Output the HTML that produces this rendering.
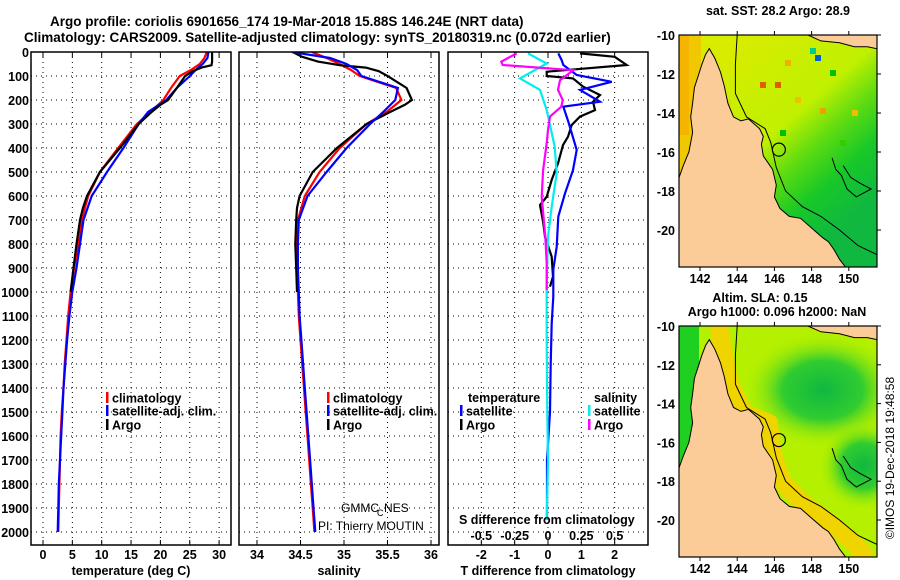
<!DOCTYPE html>
<html><head><meta charset="utf-8"><style>
html,body{margin:0;padding:0;background:#fff;}
svg{display:block;font-family:"Liberation Sans",sans-serif;font-weight:bold;}
</style></head><body>
<svg id="c" width="900" height="580" viewBox="0 0 900 580" xmlns="http://www.w3.org/2000/svg">
<defs>
<clipPath id="cp1"><rect x="31" y="52" width="200" height="493"/></clipPath>
<clipPath id="cp2"><rect x="239" y="52" width="200" height="493"/></clipPath>
<clipPath id="cp3"><rect x="448" y="52" width="200" height="493"/></clipPath>
<clipPath id="cm1"><rect x="679" y="35" width="198" height="232"/></clipPath>
<clipPath id="cm2"><rect x="679" y="326" width="198" height="231"/></clipPath>
<linearGradient id="sstg" x1="0.2" y1="0.1" x2="0.75" y2="0.85">
<stop offset="0" stop-color="#d8ec00"/><stop offset="0.45" stop-color="#c0f000"/><stop offset="0.62" stop-color="#60dc10"/><stop offset="0.8" stop-color="#18c828"/><stop offset="1" stop-color="#10b840"/></linearGradient>
<radialGradient id="slab"><stop offset="0" stop-color="#10b840"/><stop offset="0.5" stop-color="#30cc30"/><stop offset="1" stop-color="#b0f000" stop-opacity="0"/></radialGradient>
</defs>
<text x="50" y="26" font-size="13.5">Argo profile: coriolis 6901656_174 19-Mar-2018 15.88S 146.24E (NRT data)</text>
<text x="24" y="42" font-size="13.5">Climatology: CARS2009. Satellite-adjusted climatology: synTS_20180319.nc (0.072d earlier)</text>
<g id="layer"></g>
</svg>
<script>
// ---- data ----
const depthClim=[0,25,50,75,100,150,200,250,300,400,500,600,700,800,900,1000,1100,1200,1300,1400,1500,1600,1700,1800,1900,2000];
const tempClim=[27.9,27.5,26.7,25.2,23.3,21.8,20.5,18.3,16.0,12.8,9.7,7.7,6.6,6.0,5.3,4.7,4.3,4.0,3.7,3.5,3.2,3.0,2.9,2.8,2.7,2.6];
const tempSat=[28.2,28.0,27.2,26.0,25.0,22.8,21.0,17.9,16.3,13.7,10.9,8.3,6.9,6.3,5.7,5.0,4.5,4.1,3.8,3.5,3.3,3.1,2.9,2.7,2.6,2.5];
const salClim=[34.63,34.80,34.95,35.08,35.18,35.60,35.66,35.49,35.26,34.95,34.72,34.55,34.47,34.46,34.46,34.47,34.48,34.50,34.52,34.54,34.56,34.58,34.60,34.62,34.64,34.66];
const salSat=[34.40,34.84,35.03,35.15,35.20,35.62,35.59,35.45,35.30,35.03,34.80,34.58,34.48,34.47,34.47,34.48,34.49,34.51,34.53,34.55,34.57,34.59,34.61,34.63,34.65,34.67];
const depthArgo=[0,20,40,55,65,80,100,150,200,220,250,300,400,500,600,650,700,800,900,1000];
const tempArgo=[28.8,28.8,28.8,28.7,27.0,25.5,24.2,22.8,21.3,20.0,18.5,16.3,13.1,9.7,7.5,6.8,6.3,5.7,5.2,4.7];
const salArgo=[34.41,34.52,34.70,34.95,35.25,35.40,35.50,35.72,35.78,35.70,35.53,35.26,34.92,34.64,34.49,34.46,34.45,34.44,34.45,34.46];
const depthTdA=[6,20,54,70,82,100,110,144,179,207,242,269,304,353,388,464,533,603,638,713,769,853,936,978];
const tDiffArgo=[0.96,2.0,2.36,1.0,-0.04,-0.04,0.75,1.05,1.56,1.35,1.41,0.96,0.71,0.6,0.45,0.3,0.11,-0.04,-0.24,-0.14,-0.09,0.11,0.15,0.06];
const depthTdS=[6,34,54,96,124,158,207,228,290,408,492,589,686,811,908,1019,1131,1300,1500,1700,1950];
const tDiffSat=[0.31,0.41,0.46,0.86,1.91,0.96,1.56,0.46,0.61,0.86,0.75,0.51,0.31,0.26,0.16,0.16,0.11,0.08,0.06,-0.03,-0.03];
const depthSdA=[6,40,54,76,118,158,200,228,269,325,380,492,603,769,880,992];
const sDiffArgo=[-0.235,-0.35,-0.34,0.19,0.09,0.075,0.11,0.1,0.015,0,-0.01,-0.037,-0.047,-0.02,-0.01,-0.01];
const depthSdS=[6,48,110,158,242,394,505,644,769,964,1200,1500,1700,1950];
const sDiffSat=[-0.15,-0.01,-0.21,-0.06,-0.01,0.05,0.065,0.028,0.0,-0.01,-0.01,-0.005,0.0,-0.01];
const depthTicks=[0,100,200,300,400,500,600,700,800,900,1000,1100,1200,1300,1400,1500,1600,1700,1800,1900,2000];
const tTicks=[0,5,10,15,20,25,30];
const sTicks=[34,34.5,35,35.5,36];
const sTickLabels=["34","34.5","35","35.5","36"];
const tdTicks=[-2,-1,0,1,2];
const sdTicks=[-0.5,-0.25,0,0.25,0.5];
const sdTickLabels=["-0.5","-0.25","0","0.25","0.5"];
const lonTicks=[142,144,146,148,150];
const latTicks=[-10,-12,-14,-16,-18,-20];
const argoLon=146.24, argoLat=-15.88;

// ---- helpers ----
const NS="http://www.w3.org/2000/svg";
const L=document.getElementById('layer');
function mk(tag,attrs,parent){const e=document.createElementNS(NS,tag);for(const k in attrs)e.setAttribute(k,attrs[k]);(parent||L).appendChild(e);return e;}
const yD=d=>52+d*0.24;
const xT=v=>43+v*5.87;
const xS=v=>257+(v-34)*87;
const xTd=v=>548+v*33.33;
const xSd=v=>548+v*133.33;
function line(xs,ds,fx,color,clip,name){
  const p=xs.map((v,i)=>fx(v).toFixed(1)+","+yD(ds[i]).toFixed(1)).join(" ");
  const e=mk('polyline',{points:p,fill:'none',stroke:color,'stroke-width':2.2,'clip-path':'url(#'+clip+')'});
  
  
}
function txt(x,y,s,opts){const e=mk('text',Object.assign({x:x,y:y,'font-size':12.5},opts||{}));e.textContent=s;return e;}

// ---- panels ----
const panels=[{x:31,w:200,clip:'cp1'},{x:239,w:200,clip:'cp2'},{x:448,w:200,clip:'cp3'}];
panels.forEach((p,pi)=>{
  const g=mk('g',{});
  
  
  depthTicks.forEach(d=>{ if(d>0){mk('line',{x1:p.x,x2:p.x+p.w,y1:yD(d),y2:yD(d),stroke:'#000','stroke-width':1,'stroke-dasharray':'1,4'},g);} });
  let xs = pi===0?tTicks.map(xT):pi===1?sTicks.map(xS):tdTicks.map(xTd);
  xs.forEach(x=>mk('line',{x1:x,x2:x,y1:52,y2:545,stroke:'#000','stroke-width':1,'stroke-dasharray':'1,4'},g));
  xs.forEach(x=>{mk('line',{x1:x,x2:x,y1:545,y2:540,stroke:'#000'},g);mk('line',{x1:x,x2:x,y1:52,y2:57,stroke:'#000'},g);});
});
depthTicks.forEach(d=>{const e=txt(29,yD(d)+5,String(d),{'text-anchor':'end'});
  
  });
tTicks.forEach(v=>{const e=txt(xT(v),559,String(v),{'text-anchor':'middle'});
  
  });
sTicks.forEach((v,i)=>{const e=txt(xS(v),559,sTickLabels[i],{'text-anchor':'middle'});
  
  });
tdTicks.forEach(v=>{const e=txt(xTd(v),559,String(v),{'text-anchor':'middle'});
  
  });
sdTicks.forEach((v,i)=>{const e=txt(xSd(v),540,sdTickLabels[i],{'text-anchor':'middle'});
  
  });

line(tempClim,depthClim,xT,'#f00','cp1','temperature-climatology-line');
line(tempSat,depthClim,xT,'#00f','cp1','temperature-satellite-line');
line(tempArgo,depthArgo,xT,'#000','cp1','temperature-argo-line');
line(salClim,depthClim,xS,'#f00','cp2','salinity-climatology-line');
line(salArgo,depthArgo,xS,'#000','cp2','salinity-argo-line');
line(salSat,depthClim,xS,'#00f','cp2','salinity-satellite-line');
line(tDiffArgo,depthTdA,xTd,'#000','cp3','t-diff-argo-line');
line(tDiffSat,depthTdS,xTd,'#00f','cp3','t-diff-satellite-line');
line(sDiffSat,depthSdS,xSd,'#0ee','cp3','s-diff-satellite-line');
line(sDiffArgo,depthSdA,xSd,'#f0f','cp3','s-diff-argo-line');

panels.forEach((p,pi)=>{const e=mk('rect',{x:p.x,y:52,width:p.w,height:493,fill:'none',stroke:'#000','stroke-width':1.5});
  
  });

function leg(x,y,color,label,name){mk('rect',{x:x,y:y-6,width:2.5,height:11,fill:color});const e=txt(x+6,y+4.5,label);
  
  }
leg(106,398,'#f00','climatology','legend-climatology');
leg(106,411,'#00f','satellite-adj. clim.','legend-satellite');
leg(106,425,'#000','Argo','legend-argo');
leg(327,398,'#f00','climatology','legend-climatology-2');
leg(327,411,'#00f','satellite-adj. clim.','legend-satellite-2');
leg(327,425,'#000','Argo','legend-argo-2');
let t=txt(468,402,'temperature');
t=txt(594,402,'salinity');
leg(460,411,'#00f','satellite','legend-t-satellite');
leg(460,425,'#000','Argo','legend-t-argo');
leg(588,411,'#0ee','satellite','legend-s-satellite');
leg(588,425,'#f0f','Argo','legend-s-argo');
t=txt(459,524,'S difference from climatology');
t=txt(341,512,'GMMC',{'font-weight':'normal','font-size':12});
txt(377,516,'C',{'font-weight':'normal','font-size':9});
txt(384,512,'NES',{'font-weight':'normal','font-size':12});
t=txt(318,530,'PI: Thierry MOUTIN',{'font-weight':'normal','font-size':12});
t=txt(131,575,'temperature (deg C)',{'text-anchor':'middle'});
t=txt(339,575,'salinity',{'text-anchor':'middle'});
t=txt(548,575,'T difference from climatology',{'text-anchor':'middle'});

// ---- maps ----
const mx=lon=>679+(lon-140.87)*18.6;
function drawMap(top,yLat,clip,kind){
  const my=lat=>top+(-10-lat)*yLat;
  const g=mk('g',{'clip-path':'url(#'+clip+')'});
  
  
  if(kind==='sst'){
    mk('rect',{x:679,y:top,width:198,height:240,fill:'url(#sstg)'},g);
    mk('rect',{x:679,y:top,width:22,height:140,fill:'#f0c800'},g);
    mk('rect',{x:679,y:top,width:10,height:100,fill:'#f4b400'},g);
    const cells=[[712,70,'#f0a000'],[760,82,'#e06000'],[775,82,'#d86000'],[830,70,'#00c000'],[795,97,'#f0c000'],[745,120,'#00cc00'],[820,108,'#f0a000'],[852,110,'#f0c000'],[780,130,'#00c000'],[840,140,'#30d000'],[735,150,'#00c000'],[785,60,'#f0b000'],[810,48,'#00cc90'],[815,55,'#0060d0'],[700,90,'#f0a000'],[725,100,'#d0e000']];
    cells.forEach(c=>mk('rect',{x:c[0],y:c[1],width:6,height:6,fill:c[2]},g));
  } else {
    mk('rect',{x:679,y:top,width:198,height:240,fill:'#b4f000'},g);
    mk('rect',{x:679,y:top,width:20,height:140,fill:'#20d020'},g);
    mk('ellipse',{cx:mx(148.6),cy:my(-13.3),rx:80,ry:58,fill:'url(#slab)'},g);
    mk('ellipse',{cx:mx(150.8),cy:my(-17.2),rx:45,ry:45,fill:'url(#slab)'},g);
    const band=[[143,-10],[143.3,-11.5],[143.6,-13],[144.4,-14.5],[145.7,-15],[145.9,-16.5],[146.4,-18],[147.5,-19.1],[148.8,-20],[150.3,-21.2],[151,-22]];
    mk('polyline',{points:band.map(p=>mx(p[0])+','+my(p[1])).join(' '),fill:'none',stroke:'#f0d400','stroke-width':18,'stroke-linejoin':'round'},g);
  }
  const land=[[142.5,-10.7],[142.8,-11.2],[143.1,-11.9],[143.3,-12.6],[143.5,-13.5],[143.8,-14.2],[144.2,-14.4],[144.6,-14.3],[145.2,-14.8],[145.4,-15.2],[145.3,-15.6],[145.4,-16.2],[145.9,-16.9],[146.1,-17.7],[146.0,-18.3],[146.3,-18.9],[146.8,-19.3],[147.4,-19.4],[148.0,-19.9],[148.6,-20.4],[148.9,-20.6],[149.2,-21.0],[149.5,-21.5],[149.9,-22.0],[150.5,-23],[140,-23],[140,-17.8],[140.8,-17.5],[141.1,-16.7],[141.4,-16.0],[141.6,-15],[141.5,-14.2],[141.6,-13.5],[141.7,-12.7],[141.9,-12.1],[142.1,-11.5],[142.3,-11.0]];
  mk('polygon',{points:land.map(p=>mx(p[0]).toFixed(1)+','+my(p[1]).toFixed(1)).join(' '),fill:'#fccc98',stroke:'#000','stroke-width':1},g);
  const png=[[147.6,-9],[147.8,-10],[148.5,-10.3],[149.5,-10.4],[150.3,-10.6],[151,-10.6],[152,-10.8],[152,-9]];
  mk('polygon',{points:png.map(p=>mx(p[0]).toFixed(1)+','+my(p[1]).toFixed(1)).join(' '),fill:'#fccc98',stroke:'#000','stroke-width':1},g);
  const iso=[[144,-10],[143.9,-11.5],[143.9,-13],[144.5,-14.2],[145.5,-14.8],[145.8,-15.5],[146.1,-16.8],[146.6,-18],[147.5,-18.8],[148.5,-19.3],[149.5,-20],[150.5,-20.8],[151.6,-21.3]];
  mk('polyline',{points:iso.map(p=>mx(p[0]).toFixed(1)+','+my(p[1]).toFixed(1)).join(' '),fill:'none',stroke:'#000','stroke-width':1},g);
  const reef=[[149.1,-16.3],[149.3,-16.9],[149.6,-17.2],[149.9,-17.9],[150.4,-18.3],[151.2,-17.9],[150.6,-17.6],[150.1,-17.3],[149.7,-16.7]];
  mk('polyline',{points:reef.map(p=>mx(p[0]).toFixed(1)+','+my(p[1]).toFixed(1)).join(' '),fill:'none',stroke:'#000','stroke-width':1},g);
  const c=mk('circle',{cx:mx(argoLon),cy:my(argoLat),r:6.5,fill:'none',stroke:'#000','stroke-width':1.2});
  
  
  const f=mk('rect',{x:679,y:top,width:198,height:(clip==='cm1'?232:231),fill:'none',stroke:'#000','stroke-width':1.2});
  
  
  const bottom=top+(clip==='cm1'?232:231);
  lonTicks.forEach(lon=>{mk('line',{x1:mx(lon),x2:mx(lon),y1:bottom,y2:bottom+4,stroke:'#000'});mk('line',{x1:mx(lon),x2:mx(lon),y1:top,y2:top-4,stroke:'#000'});
    const e=txt(mx(lon),bottom+16,String(lon),{'text-anchor':'middle'});
    
    });
  latTicks.forEach(lat=>{mk('line',{x1:877,x2:881,y1:my(lat),y2:my(lat),stroke:'#000'});
    const e=txt(675,my(lat)+5,String(lat),{'text-anchor':'end'});
    
    });
}
drawMap(35,19.5,'cm1','sst');
drawMap(326,19.4,'cm2','sla');
t=txt(778,15,'sat. SST: 28.2 Argo: 28.9',{'text-anchor':'middle'});
t=txt(760,302,'Altim. SLA: 0.15',{'text-anchor':'middle'});
t=txt(777,316,'Argo h1000: 0.096 h2000: NaN',{'text-anchor':'middle'});
t=txt(894,458,'©IMOS 19-Dec-2018 19:48:58',{'text-anchor':'middle','font-weight':'normal','font-size':12,transform:'rotate(-90 894 458)'});


</script>
</body></html>
